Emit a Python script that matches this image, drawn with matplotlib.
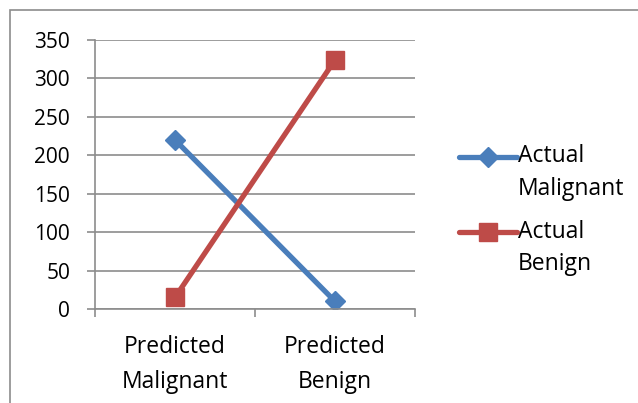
import matplotlib.pyplot as plt
from matplotlib.patches import Rectangle
from matplotlib.legend_handler import HandlerLine2D

categories = ["Predicted\nMalignant", "Predicted\nBenign"]
actual_malignant = [220, 10]
actual_benign = [15, 324]

plt.rcParams['font.family'] = ['Open Sans', 'DejaVu Sans']


class FirstLineHandler(HandlerLine2D):
    # keep the legend marker level with the first line of a two-line label
    def __init__(self, lift, **kw):
        super().__init__(**kw)
        self.lift = lift

    def create_artists(self, legend, orig_handle, xdescent, ydescent,
                       width, height, fontsize, trans):
        return super().create_artists(legend, orig_handle, xdescent,
                                      ydescent - 2 * self.lift, width, height,
                                      fontsize, trans)


fig = plt.figure(figsize=(6.38, 4.03), dpi=100)
ax = fig.add_axes([95 / 638, 1 - 309 / 403, 320 / 638, 269 / 403])

# outer chart frame
fig.patches.append(Rectangle((10 / 638, -0.1), 1.2, 1 - 10 / 403 + 0.1,
                             transform=fig.transFigure, fill=False,
                             edgecolor='#8c8c8c', linewidth=1.2))

x = range(len(categories))
l1, = ax.plot(x, actual_malignant, color='#4a7ebb', linewidth=3.8, marker='D',
              markersize=10, label="Actual\nMalignant", solid_capstyle='round')
l2, = ax.plot(x, actual_benign, color='#be4b48', linewidth=3.8, marker='s',
              markersize=13, label="Actual\nBenign", solid_capstyle='round')

ax.set_xlim(-0.5, 1.5)
ax.set_ylim(0, 350)
ax.set_yticks(range(0, 351, 50))
ax.set_xticks([-0.5, 0.5, 1.5], minor=False)
ax.set_xticklabels([])
ax.set_xticks(list(x), minor=True)
ax.set_xticklabels(categories, minor=True, fontsize=16.5, linespacing=1.6)
ax.tick_params(axis='x', which='minor', length=0, pad=19)
ax.tick_params(axis='x', which='major', length=6, color='#8c8c8c', width=1.2)
ax.tick_params(axis='y', length=6, color='#8c8c8c', width=1.2, labelsize=15, pad=12)

ax.grid(axis='y', color='#8c8c8c', linewidth=1.2)
ax.set_axisbelow(True)
for side in ['top', 'right']:
    ax.spines[side].set_visible(False)
for side in ['left', 'bottom']:
    ax.spines[side].set_color('#8c8c8c')
    ax.spines[side].set_linewidth(1.2)

handler = FirstLineHandler(lift=12)
leg = fig.legend(loc='upper left', bbox_to_anchor=(448 / 638, 1 - 133 / 403),
                 frameon=False, handlelength=2.5, handletextpad=0.05,
                 labelspacing=0.85, borderpad=0, prop={'size': 16.5},
                 handler_map={l1: handler, l2: handler})
for t in leg.get_texts():
    t.set_linespacing(1.45)

fig.savefig("out.png", dpi=100)
